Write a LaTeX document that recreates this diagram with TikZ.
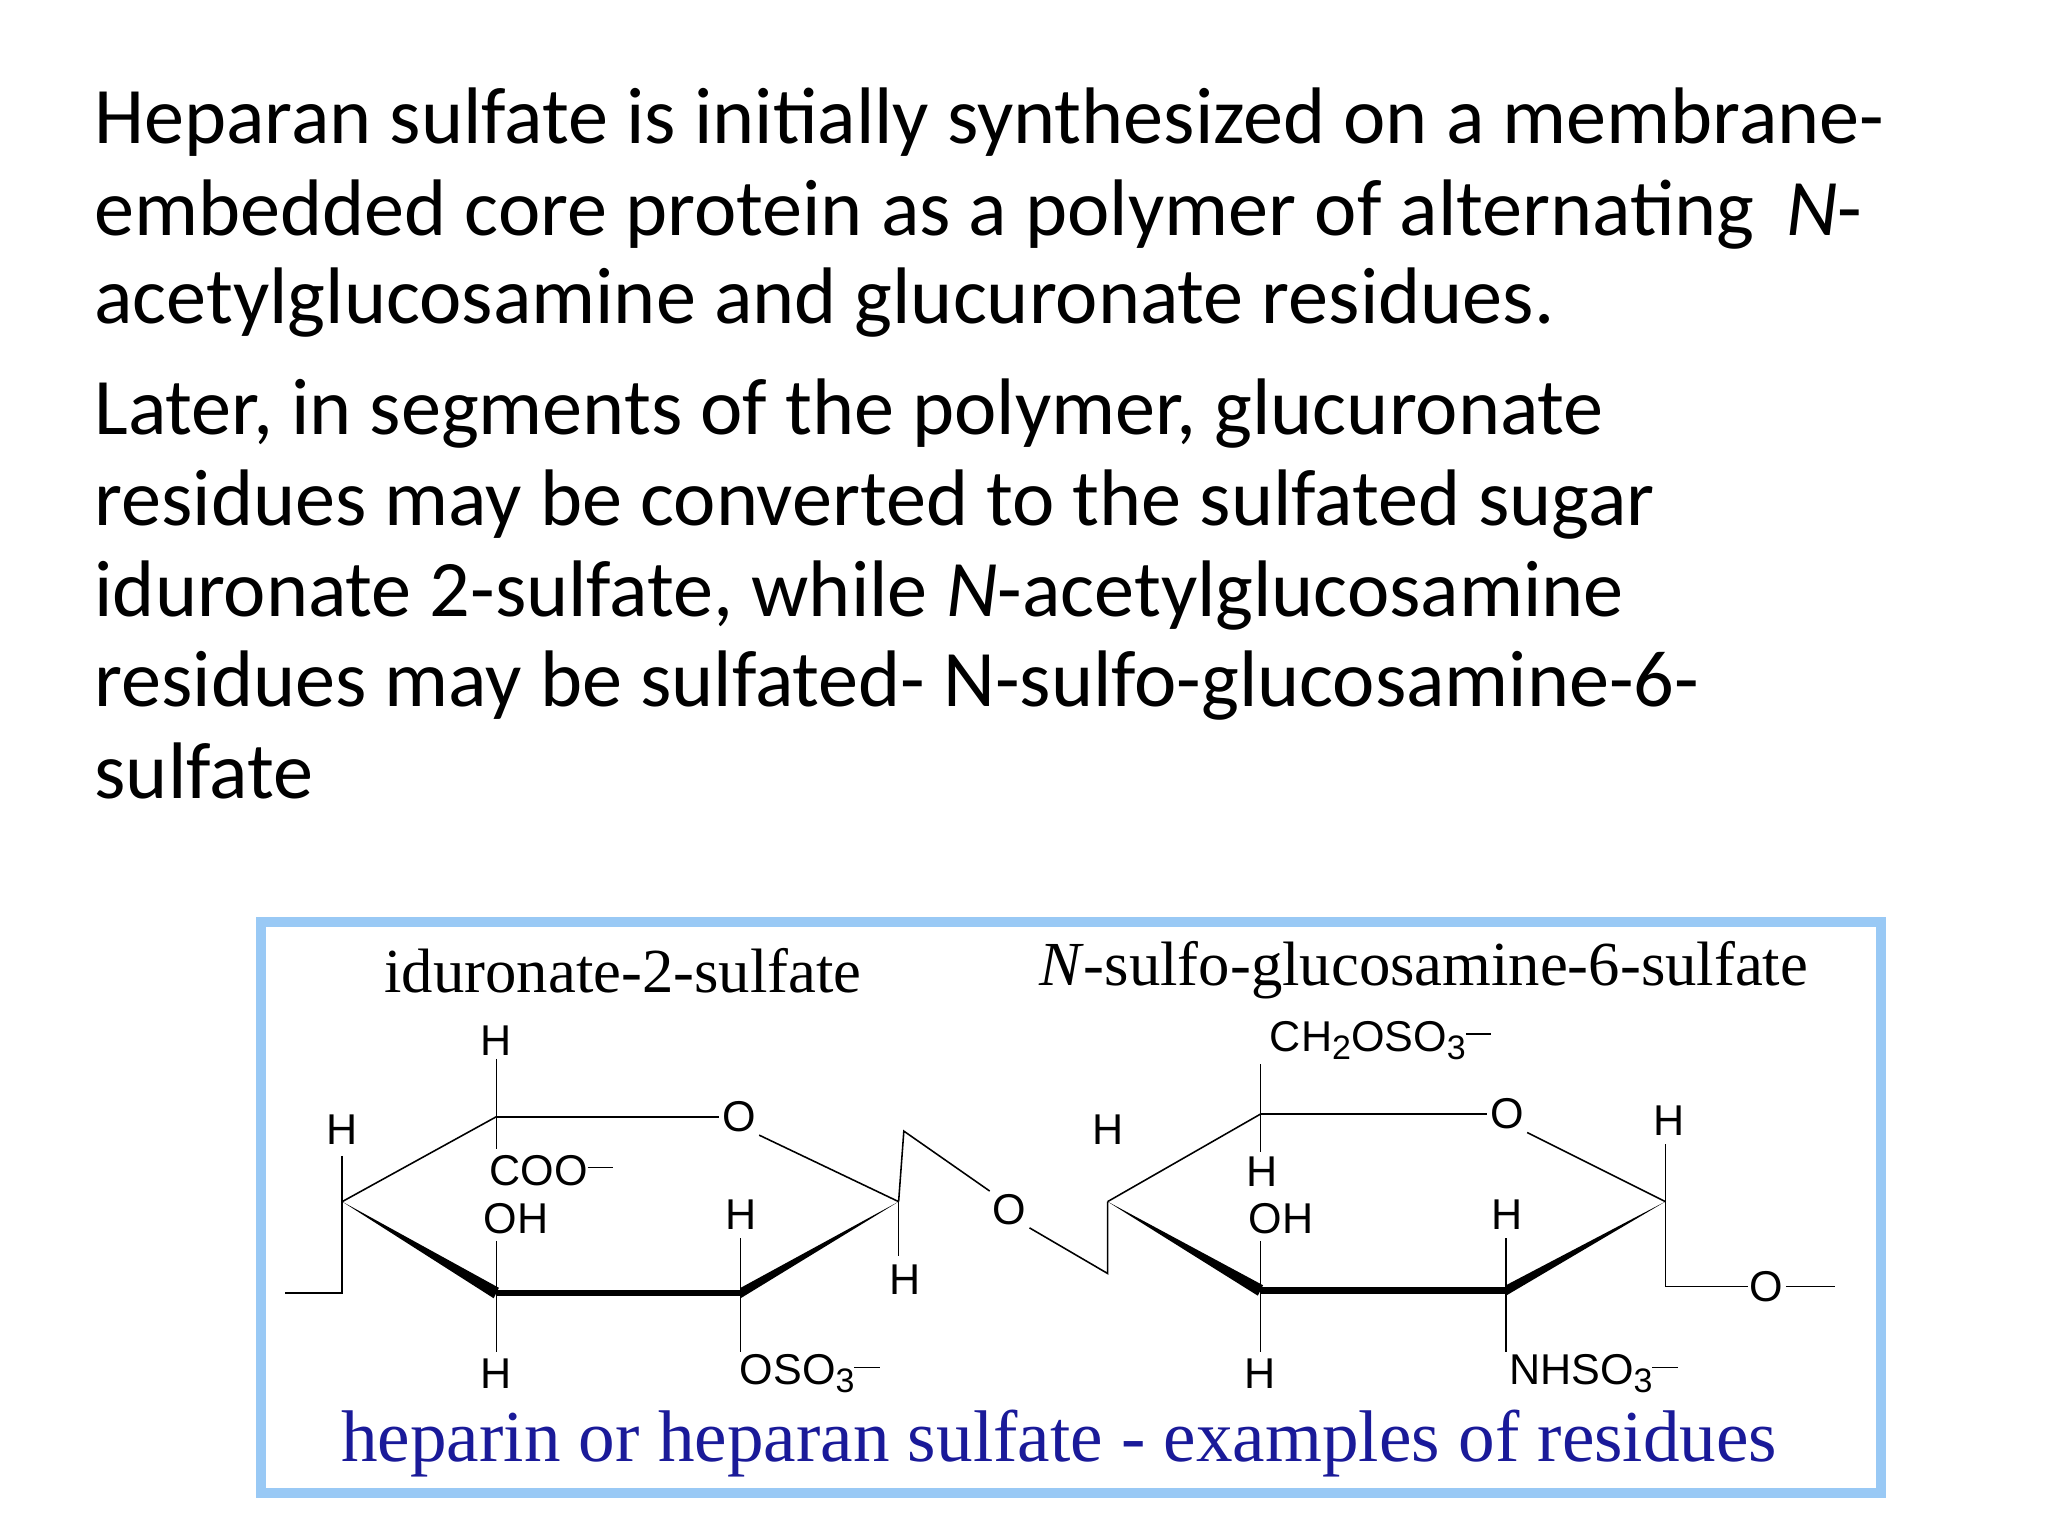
\documentclass[tikz,border=0pt]{standalone}
\usepackage{fontspec}
\setmainfont{Carlito}
\newfontfamily\tms{Liberation Serif}
\newfontfamily\arl{Liberation Sans}
\definecolor{boxblue}{HTML}{99C9F5}
\definecolor{navy}{HTML}{1A1A99}
\newcommand{\chsub}[1]{\raisebox{-0.35ex}{\fontsize{13}{13}\selectfont #1}}
\newcommand{\chneg}{\raisebox{0.75ex}{\fontsize{13}{13}\selectfont\rule{0.75em}{0.5pt}}}
\tikzset{
 body/.style={anchor=base west,inner sep=0,font=\fontsize{30.7}{34}\selectfont},
 atom/.style={inner sep=1pt,font=\arl\fontsize{16.5}{16.5}\selectfont},
 lbl/.style={inner sep=0,font=\tms\fontsize{24}{24}\selectfont},
 bnd/.style={line width=0.6pt},
 thk/.style={line width=2.6pt},
}
\begin{document}
\begin{tikzpicture}[x=0.5pt,y=-0.5pt]
\useasboundingbox (0,0) rectangle (1568,1176);
\fill[white] (0,0) rectangle (1568,1176);
\node[body] at (72,110) {Heparan sulfate is initially synthesized on a membrane-};
\node[body] at (72,180) {embedded core protein as a polymer of alternating \,\textit{N}-};
\node[body] at (72,248) {acetylglucosamine and glucuronate residues.};
\node[body] at (72,333) {Later, in segments of the polymer, glucuronate};
\node[body] at (72,402) {residues may be converted to the sulfated sugar};
\node[body] at (72,472) {iduronate 2-sulfate, while \textit{N}-acetylglucosamine};
\node[body] at (72,541) {residues may be sulfated- N-sulfo-glucosamine-6-};
\node[body] at (72,611) {sulfate};
\draw[boxblue,line width=4pt] (200,706) rectangle (1440,1143);
\node[lbl] at (477,743) {iduronate-2-sulfate};
\node[lbl] at (1090,743) {\textit{N}-sulfo-glucosamine-6-sulfate};
\node[inner sep=0,text=navy,font=\tms\fontsize{28}{28}\selectfont] at (811,1105) {heparin or heparan sulfate - examples of residues};
% ring 1
\node[atom] (o1) at (566,855) {O};
\draw[bnd] (380,855) -- (o1.west);
\draw[bnd] (o1.south east) -- (688,920);
\fill (262,920) -- (382,986) -- (378,994) -- cycle;
\fill (688,920) -- (567,986) -- (567,994) -- cycle;
\draw[thk] (380,990) -- (567,990);
\draw[bnd] (262,920) -- (380,855);
\node[atom] (h1) at (380,797) {H};
\draw[bnd] (h1.south) -- (380,855) -- (380,880);
\node[atom] at (422,896) {COO\chneg};
\node[atom] at (395,933) {OH};
\node[atom] at (262,865) {H};
\draw[bnd] (262,885) -- (262,990) -- (218,990);
\draw[bnd] (380,950) -- (380,990) -- (380,1035);
\node[atom] at (380,1052) {H};
\node[atom] at (567,930) {H};
\draw[bnd] (567,948) -- (567,990) -- (567,1035);
\node[atom] at (620,1052) {OSO\chsub{3}\chneg};
\node[atom] at (693,980) {H};
\draw[bnd] (688,920) -- (688,962);
\node[atom] (og) at (773,926) {O};
\draw[bnd] (688,920) -- (692,866) -- (og.north west);
\draw[bnd] (og.south east) -- (848,975) -- (848,920);
% ring 2
\node[atom] at (848,865) {H};
\node[atom] (o2) at (1154,853) {O};
\draw[bnd] (965,853) -- (o2.west);
\draw[bnd] (o2.south east) -- (1275,920);
\draw[bnd] (848,920) -- (965,853);
\fill (848,920) -- (967,984) -- (963,992) -- cycle;
\fill (1275,920) -- (1153,984) -- (1153,992) -- cycle;
\draw[thk] (965,988) -- (1153,988);
\node[atom] at (1057,797) {CH\chsub{2}OSO\chsub{3}\chneg};
\draw[bnd] (965,815) -- (965,853) -- (965,882);
\node[atom] at (966,897) {H};
\node[atom] at (981,933) {OH};
\draw[bnd] (965,950) -- (965,988) -- (965,1035);
\node[atom] at (965,1052) {H};
\node[atom] at (1154,930) {H};
\draw[bnd] (1153,948) -- (1153,988) -- (1153,1035);
\node[atom] at (1220,1052) {NHSO\chsub{3}\chneg};
\node[atom] at (1278,858) {H};
\draw[bnd] (1275,876) -- (1275,985) -- (1338,985);
\node[atom] (o3) at (1352,985) {O};
\draw[bnd] (o3.east) -- (1405,985);
\end{tikzpicture}
\end{document}
